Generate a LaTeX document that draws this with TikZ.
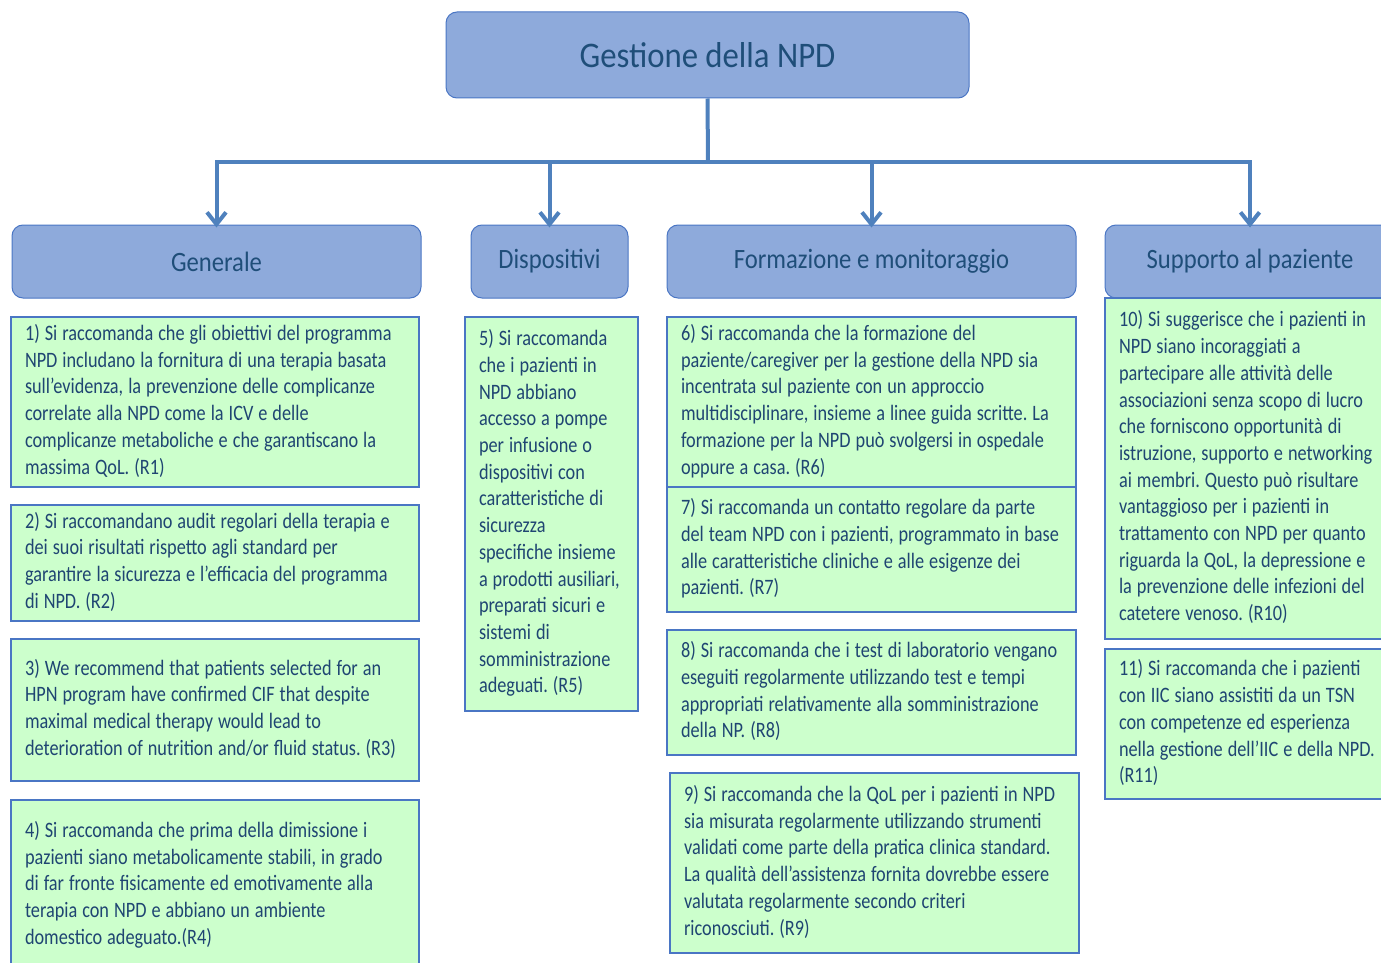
\documentclass[tikz,border=0pt]{standalone}
\usepackage{fontspec}
\setmainfont{Carlito}[FakeStretch=0.83]
\newfontfamily\hdrfont{Carlito}[FakeStretch=0.88]
\newfontfamily\titlefont{Carlito}[FakeStretch=0.91]
\usetikzlibrary{arrows.meta}
\frenchspacing

\definecolor{hdrfill}{HTML}{8EAADB}
\definecolor{hdrline}{HTML}{4A76C4}
\definecolor{hdrtext}{HTML}{1F4E79}
\definecolor{boxfill}{HTML}{CCFFCC}
\definecolor{boxline}{HTML}{4A76C4}
\definecolor{boxtext}{HTML}{1F4572}
\definecolor{conncol}{HTML}{4F81BD}

% set lines exactly as given, one row per line, with tight word spaces
\newcommand\textrows[1]{{\spaceskip=5pt\relax\begin{tabular}{@{}l@{}}#1\end{tabular}}}

\tikzset{
  hdr/.style={draw=hdrline, fill=hdrfill, line width=1pt, rounded corners=11pt,
    text=hdrtext, font=\hdrfont\fontsize{28}{32}\selectfont, inner sep=0pt},
  rec/.style={draw=boxline, fill=boxfill, line width=1.2pt, text=boxtext,
    font=\fontsize{22}{26.7}\selectfont,
    align=left, inner xsep=14pt, inner ysep=0pt},
  conn/.style={draw=conncol, line width=4pt},
  arr/.style={conn, -{Straight Barb[length=12pt,width=19pt,line width=4pt]}},
}

\begin{document}
\begin{tikzpicture}[x=1pt,y=-1pt]
\useasboundingbox (0,0) rectangle (1381,963);

% root
\node[hdr, minimum width=523pt, minimum height=86pt, font=\titlefont\fontsize{36}{40}\selectfont]
  (root) at (707.5,55) {Gestione della NPD};

% category headers
\node[hdr, minimum width=409pt, minimum height=73pt] (gen) at (216.5,261.5) {Generale};
\node[hdr, minimum width=157pt, minimum height=73pt] (dis) at (549.5,261.5) {Dispositivi};
\node[hdr, minimum width=409pt, minimum height=73pt] (for) at (871.5,261.5) {Formazione e monitoraggio};
\node[hdr, minimum width=290pt, minimum height=73pt] (sup) at (1250,261.5) {Supporto al paziente};

% connectors
\coordinate (bus) at (708,162);
\draw[conn] (root.south) -- (bus);
\draw[arr] (bus) -| ([yshift=-3pt]gen.north);
\draw[arr] (bus) -| ([yshift=-3pt]dis.north);
\draw[arr] (bus) -| ([yshift=-3pt]for.north);
\draw[arr] (bus) -| ([yshift=-3pt]sup.north);

% Generale
\node[rec, text width=380pt, minimum height=170pt] (r1) at (215,402) {\textrows{%
1) Si raccomanda che gli obiettivi del programma\\
NPD includano la fornitura di una terapia basata\\
sull'evidenza, la prevenzione delle complicanze\\
correlate alla NPD come la ICV e delle\\
complicanze metaboliche e che garantiscano la\\
massima QoL. (R1)}};
\node[rec, text width=380pt, minimum height=116pt] (r2) at (215,563) {\textrows{%
2) Si raccomandano audit regolari della terapia e\\
dei suoi risultati rispetto agli standard per\\
garantire la sicurezza e l'efficacia del programma\\
di NPD. (R2)}};
\node[rec, text width=380pt, minimum height=142pt] (r3) at (215,710) {\textrows{%
3) We recommend that patients selected for an\\
HPN program have confirmed CIF that despite\\
maximal medical therapy would lead to\\
deterioration of nutrition and/or fluid status. (R3)}};
\node[rec, text width=380pt, minimum height=171pt] (r4) at (215,885.5) {\textrows{%
4) Si raccomanda che prima della dimissione i\\
pazienti siano metabolicamente stabili, in grado\\
di far fronte fisicamente ed emotivamente alla\\
terapia con NPD e abbiano un ambiente\\
domestico adeguato.(R4)}};

% Dispositivi
\node[rec, text width=145pt, minimum height=394pt] (r5) at (551.5,514) {\textrows{%
5) Si raccomanda\\
che i pazienti in\\
NPD abbiano\\
accesso a pompe\\
per infusione o\\
dispositivi con\\
caratteristiche di\\
sicurezza\\
specifiche insieme\\
a prodotti ausiliari,\\
preparati sicuri e\\
sistemi di\\
somministrazione\\
adeguati. (R5)}};

% Formazione e monitoraggio
\node[rec, text width=381pt, minimum height=170pt] (r6) at (871.5,402) {\textrows{%
6) Si raccomanda che la formazione del\\
paziente/caregiver per la gestione della NPD sia\\
incentrata sul paziente con un approccio\\
multidisciplinare, insieme a linee guida scritte. La\\
formazione per la NPD può svolgersi in ospedale\\
oppure a casa. (R6)}};
\node[rec, text width=381pt, minimum height=125pt] (r7) at (871.5,549.5) {\textrows{%
7) Si raccomanda un contatto regolare da parte\\
del team NPD con i pazienti, programmato in base\\
alle caratteristiche cliniche e alle esigenze dei\\
pazienti. (R7)}};
\node[rec, text width=381pt, minimum height=125pt] (r8) at (871.5,692.5) {\textrows{%
8) Si raccomanda che i test di laboratorio vengano\\
eseguiti regolarmente utilizzando test e tempi\\
appropriati relativamente alla somministrazione\\
della NP. (R8)}};
\node[rec, text width=381pt, minimum height=180pt] (r9) at (874.5,863) {\textrows{%
9) Si raccomanda che la QoL per i pazienti in NPD\\
sia misurata regolarmente utilizzando strumenti\\
validati come parte della pratica clinica standard.\\
La qualità dell'assistenza fornita dovrebbe essere\\
valutata regolarmente secondo criteri\\
riconosciuti. (R9)}};

% Supporto al paziente
\node[rec, text width=262pt, minimum height=341pt] (r10) at (1250,468.5) {\textrows{%
10) Si suggerisce che i pazienti in\\
NPD siano incoraggiati a\\
partecipare alle attività delle\\
associazioni senza scopo di lucro\\
che forniscono opportunità di\\
istruzione, supporto e networking\\
ai membri. Questo può risultare\\
vantaggioso per i pazienti in\\
trattamento con NPD per quanto\\
riguarda la QoL, la depressione e\\
la prevenzione delle infezioni del\\
catetere venoso. (R10)}};
\node[rec, text width=262pt, minimum height=150pt] (r11) at (1250,724) {\textrows{%
11) Si raccomanda che i pazienti\\
con IIC siano assistiti da un TSN\\
con competenze ed esperienza\\
nella gestione dell’IIC e della NPD.\\
(R11)}};
\end{tikzpicture}
\end{document}
